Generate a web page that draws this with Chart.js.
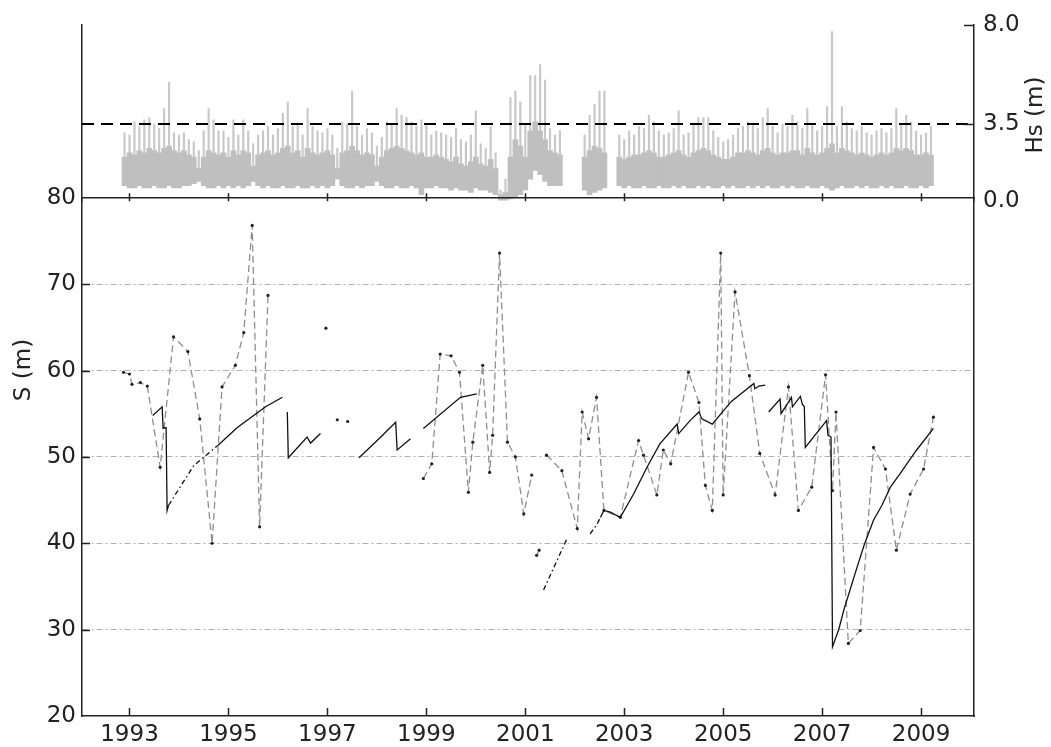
<!DOCTYPE html>
<html>
<head>
<meta charset="utf-8">
<title>Hs and S, 1993-2009</title>
<script src="https://cdn.jsdelivr.net/npm/chart.js@4/dist/chart.umd.min.js"></script>
<style>
  html, body { margin: 0; padding: 0; background: #fff; }
  #wrap { position: relative; width: 1051px; height: 747px; }
  #wrap canvas { position: absolute; left: 0; }
</style>
</head>
<body>
<div id="wrap">
  <canvas id="hsChart" width="1051" height="224" style="top:0"></canvas>
  <canvas id="sChart" width="1051" height="569" style="top:178px"></canvas>
</div>
<script>
Chart.defaults.font.family = '"DejaVu Sans", sans-serif';
Chart.defaults.font.size = 23;
Chart.defaults.color = "#222";
Chart.defaults.animation = false;

// time axis shared by both panels (decimal years)
const yearMin = 1992.04;
const yearMax = 2010.07;
const yearTicks = [1993, 1995, 1997, 1999, 2001, 2003, 2005, 2007, 2009];

// Hs, one bin every 0.1 yr from 1992.9: bottom and top of the dense band, highest peak (null = no record)
const hsStart = 1992.9;
const hsStep = 0.1;
const hsLow = [
    0.7, 0.6, 0.6, 0.7, 0.6, 0.6, 0.7, 0.6, 0.6, 0.7,
    0.6, 0.6, 0.7, 0.7, 0.8, 0.9, 0.7, 0.6, 0.6, 0.7,
    0.6, 0.7, 0.6, 0.7, 0.6, 0.7, 0.9, 0.7, 0.6, 0.7,
    0.6, 0.6, 0.7, 0.6, 0.6, 0.7, 0.6, 0.6, 0.7, 0.6,
    0.7, 0.6, 0.7, 1.0, 0.7, 0.6, 0.6, 0.7, 0.6, 0.7,
    0.7, 0.9, 0.7, 0.6, 0.6, 0.7, 0.6, 0.6, 0.7, 0.6,
    0.3, 0.6,
    0.6, 0.7, 0.6, 0.6, 0.5, 0.6, 0.5, 0.5,
    0.4, 0.6, 0.5, 0.5, 0.4, 0.3,
    0.05, 0.05,
    0.1, 0.2, 0.3, 0.5, 1.0, 1.4, 1.2, 0.9, 0.7, 0.7, 0.7,
    null, null, null, null,
    0.5, 0.3, 0.4, 0.5, 0.6,
    null, null,
    0.7, 0.6, 0.7, 0.6, 0.6, 0.7, 0.6, 0.6, 0.7, 0.6,
    0.6, 0.7, 0.6, 0.7, 0.6, 0.6, 0.7, 0.6, 0.7, 0.6,
    0.6, 0.7, 0.6, 0.7, 0.6, 0.6, 0.7, 0.6, 0.7, 0.6,
    0.7, 0.6, 0.6, 0.7, 0.6, 0.7, 0.6, 0.6, 0.7, 0.6,
    0.6, 0.7, 0.6, 0.5, 0.6, 0.7, 0.6, 0.6, 0.7, 0.6,
    0.7, 0.6, 0.6, 0.7, 0.6, 0.7, 0.6, 0.6, 0.7, 0.6,
    0.6, 0.7, 0.6, 0.7,
];
const hsHigh = [
    2.0, 2.2, 2.1, 2.3, 2.2, 2.4, 2.3, 2.2, 2.4, 2.5,
    2.3, 2.2, 2.3, 2.1, 2.0, 1.5, 2.0, 2.3, 2.2, 2.1,
    2.2, 2.0, 2.3, 2.1, 2.3, 2.2, 1.6, 2.1, 2.2, 2.3,
    2.1, 2.2, 2.4, 2.5, 2.2, 2.3, 2.0, 2.4, 2.2, 2.1,
    2.2, 2.3, 2.1, 1.5, 2.2, 2.3, 2.5, 2.3, 2.1, 2.2,
    2.1, 1.6, 2.0, 2.3, 2.4, 2.5, 2.4, 2.3, 2.2, 2.1,
    2.2, 2.0,
    2.0, 2.1, 2.0, 1.9, 1.8, 2.0, 1.7, 1.6,
    1.8, 2.0, 1.7, 1.6, 1.9, 1.5,
    0.3, 0.4,
    2.0, 2.8, 2.5, 2.0, 3.2, 3.6, 3.2, 2.8, 2.3, 2.2, 2.1,
    null, null, null, null,
    2.0, 2.3, 2.5, 2.4, 2.2,
    null, null,
    2.0, 1.9, 2.0, 2.1, 2.1, 2.2, 2.3, 2.2, 2.0, 2.0,
    2.1, 2.2, 2.3, 2.1, 2.0, 2.2, 2.3, 2.4, 2.3, 2.1,
    2.0, 1.9, 1.9, 2.0, 2.2, 2.2, 2.3, 2.2, 2.1, 2.3,
    2.4, 2.2, 2.1, 2.2, 2.2, 2.3, 2.3, 2.1, 2.4, 2.2,
    2.1, 2.2, 2.4, 2.6, 2.2, 2.4, 2.3, 2.2, 2.1, 2.2,
    2.1, 2.0, 2.1, 2.2, 2.1, 2.2, 2.4, 2.3, 2.4, 2.3,
    2.1, 2.1, 2.2, 2.1,
];
const hsPeak = [
    3.1, 3.0, 3.6, 3.4, 3.7, 3.8, 3.5, 3.3, 4.2, 5.4,
    3.1, 3.0, 3.1, 2.8, 2.7, 2.3, 3.2, 4.2, 3.7, 3.2,
    3.2, 2.9, 3.7, 3.0, 3.7, 3.2, 2.6, 3.0, 3.2, 3.4,
    3.0, 3.3, 4.0, 4.5, 3.4, 3.5, 3.0, 4.2, 3.4, 3.2,
    3.1, 3.3, 3.0, 2.4, 3.6, 3.5, 5.0, 3.4, 3.0, 3.3,
    3.1, 2.5, 2.9, 3.6, 3.5, 4.2, 3.9, 3.8, 3.6, 3.4,
    3.7, 3.5,
    3.0, 3.2, 3.1, 3.0, 2.9, 3.3, 2.8, 2.7,
    3.0, 4.1, 2.6, 2.4, 3.4, 2.2,
    0.5, 1.0,
    4.7, 5.0, 4.5, 3.5, 5.7, 5.7, 6.2, 5.5, 3.3, 3.0, 3.2,
    null, null, null, null,
    3.0, 3.9, 4.4, 5.0, 5.0,
    null, null,
    3.0, 2.8, 3.2, 3.0, 3.4, 3.3, 3.9, 3.6, 3.2, 3.0,
    3.1, 3.3, 4.1, 3.0, 3.1, 3.5, 3.8, 3.8, 3.8, 3.2,
    2.9, 2.7, 2.8, 3.0, 3.3, 3.4, 3.6, 3.5, 3.3, 3.8,
    4.2, 3.4, 3.1, 3.5, 3.4, 3.9, 3.6, 3.3, 4.2, 3.5,
    3.2, 3.4, 4.3, 7.7, 3.4, 4.3, 3.6, 3.3, 3.2, 3.4,
    3.1, 3.0, 3.2, 3.3, 3.1, 3.3, 4.2, 3.5, 3.9, 3.6,
    3.2, 3.0, 3.1, 3.4,
];
const hsThreshold = 3.5;
const hsTicks = [0, 3.5, 8];

// measured S (m); null breaks the dashed line
const obsYear = [
    1992.88, 1993.00, 1993.05, 1993.22, 1993.36, 1993.62, 1993.89, 1994.18, 1994.42, 1994.67,
    1994.87, 1995.14, 1995.31, 1995.48, 1995.63, 1995.80, 1996.40, 1996.97, 1997.10, 1997.20,
    1997.30, 1997.41, 1998.00, 1998.94, 1999.11, 1999.28, 1999.50, 1999.67, 1999.85, 1999.94,
    2000.14, 2000.28, 2000.34, 2000.48, 2000.64, 2000.80, 2000.97, 2001.13, 2001.18, 2001.23,
    2001.28, 2001.35, 2001.43, 2001.74, 2002.05, 2002.15, 2002.28, 2002.44, 2002.59, 2002.92,
    2003.29, 2003.39, 2003.66, 2003.79, 2003.94, 2004.30, 2004.51, 2004.64, 2004.78, 2004.95,
    2005.00, 2005.24, 2005.53, 2005.74, 2006.05, 2006.32, 2006.52, 2006.79, 2007.07, 2007.21,
    2007.28, 2007.53, 2007.77, 2008.04, 2008.28, 2008.50, 2008.78, 2009.05, 2009.25,
];
const obsS = [
    59.8, 59.6, 58.4, 58.6, 58.2, 48.8, 63.9, 62.2, 54.4, 40.0,
    58.1, 60.6, 64.4, 76.8, 41.9, 68.7, null, 64.9, null, 54.3,
    null, 54.1, null, 47.5, 49.2, 61.9, 61.7, 59.8, 45.9, 51.7,
    60.6, 48.2, 52.5, 73.6, 51.7, 50.0, 43.4, 47.9, null, 38.6,
    39.2, null, 50.2, 48.4, 41.7, 55.2, 52.1, 56.9, 43.8, 43.0,
    51.9, 50.2, 45.6, 50.8, 49.2, 59.8, 56.3, 46.7, 43.8, 73.6,
    45.6, 69.1, 59.4, 50.4, 45.6, 58.1, 43.8, 46.5, 59.5, 46.1,
    55.2, 28.4, 29.9, 51.1, 48.6, 39.2, 45.7, 48.6, 54.6,
];

// modelled S (m); null breaks the line
const modelYear = [
    1993.47, 1993.66, 1993.68, 1993.74, 1993.76, 1993.79, 1994.30, 1994.78, 1995.18, 1995.51,
    1995.75, 1996.09, 1996.14, 1996.19, 1996.21, 1996.59, 1996.66, 1996.86, 1997.20, 1997.64,
    1998.08, 1998.38, 1998.41, 1998.68, 1998.80, 1998.94, 1999.69, 2000.02, 2000.70, 2001.37,
    2001.84, 2002.10, 2002.31, 2002.44, 2002.52, 2002.59, 2002.72, 2002.92, 2003.19, 2003.46,
    2003.72, 2004.07, 2004.10, 2004.33, 2004.51, 2004.57, 2004.78, 2005.16, 2005.62, 2005.64,
    2005.72, 2005.85, 2005.88, 2005.92, 2006.15, 2006.17, 2006.38, 2006.40, 2006.56, 2006.60,
    2006.64, 2006.66, 2007.09, 2007.12, 2007.18, 2007.21, 2007.34, 2007.44, 2007.71, 2007.85,
    2008.04, 2008.21, 2008.38, 2008.58, 2008.91, 2009.25,
];
const modelS = [
    54.8, 55.8, 53.3, 53.4, 43.8, 44.4, 49.0, 51.3, 53.4, 54.8,
    55.8, 56.9, null, 55.2, 49.9, 52.3, 51.6, 52.7, null, 49.9,
    52.3, 54.0, 50.8, 52.1, null, 53.3, 56.9, 57.3, null, 34.6,
    40.5, null, 41.1, 42.1, 43.0, 43.8, 43.6, 43.0, 45.7, 48.8,
    51.5, 53.8, 52.7, 54.2, 55.2, 54.4, 53.8, 56.4, 58.5, 57.9,
    58.2, 58.3, null, 55.2, 56.7, 55.0, 56.9, 55.8, 57.0, 56.1,
    55.8, 51.1, 54.2, 52.5, 52.3, 28.0, 30.1, 32.3, 37.3, 39.8,
    42.7, 44.4, 46.5, 48.1, 50.8, 53.3,
];
// stretches of the model line that are drawn broken (sparse output)
const modelSparse = [[1993.78, 1994.79], [2001.3, 2001.9], [2002.3, 2002.56]];

const toPoints = (xs, ys) => xs.map((x, i) => ({ x, y: ys[i] }));

// floating bars: dense band plus thin peaks above it
const bandData = [];
const peakData = [];
hsLow.forEach((lo, i) => {
    if (lo === null) return;
    const x = +(hsStart + i * hsStep).toFixed(2);
    bandData.push({ x, y: [lo, hsHigh[i]] });
    peakData.push({ x, y: [hsHigh[i], hsPeak[i]] });
});

// tick marks drawn on the inside of the frame
const innerTicks = {
    id: "innerTicks",
    afterDatasetsDraw(chart, args, opts) {
        const { ctx, chartArea: a } = chart;
        ctx.save();
        ctx.strokeStyle = "#222";
        ctx.lineWidth = 1.5;
        ctx.beginPath();
        opts.marks.forEach((m) => {
            const scale = chart.scales[m.scale];
            m.values.forEach((v) => {
                const p = Math.round(scale.getPixelForValue(v)) + 0.5;
                if (m.side === "bottom") {
                    ctx.moveTo(p, a.bottom);
                    ctx.lineTo(p, a.bottom - m.len);
                } else if (m.side === "left") {
                    ctx.moveTo(a.left, p);
                    ctx.lineTo(a.left + m.len, p);
                } else if (m.side === "right") {
                    ctx.moveTo(a.right, p);
                    ctx.lineTo(a.right - m.len, p);
                }
            });
        });
        ctx.stroke();
        ctx.restore();
    },
};

// rotated axis titles, read bottom to top
const sideTitles = {
    id: "sideTitles",
    afterDraw(chart, args, opts) {
        const ctx = chart.ctx;
        opts.items.forEach((t) => {
            ctx.save();
            ctx.translate(t.x, t.y);
            ctx.rotate(-Math.PI / 2);
            ctx.font = '23px "DejaVu Sans", sans-serif';
            ctx.fillStyle = "#222";
            ctx.textAlign = "center";
            ctx.textBaseline = "middle";
            ctx.fillText(t.text, 0, 0);
            ctx.restore();
        });
    },
};

const frame = { color: "#222", width: 1.5 };
const hidden = { display: false, drawTicks: false };

// Hs panel
new Chart(document.getElementById("hsChart"), {
    type: "bar",
    data: {
        datasets: [
            {
                type: "line",
                data: [{ x: yearMin, y: hsThreshold }, { x: yearMax, y: hsThreshold }],
                borderColor: "#000",
                borderWidth: 2,
                borderDash: [12, 7],
                pointRadius: 0,
            },
            {
                data: peakData,
                backgroundColor: "#c8c8c8",
                barThickness: 1.5,
                grouped: false,
            },
            {
                data: bandData,
                backgroundColor: "#bfbfbf",
                barThickness: 5,
                grouped: false,
            },
        ],
    },
    options: {
        responsive: false,
        layout: { padding: { top: 25, bottom: 12, left: 0, right: 0 } },
        plugins: {
            legend: { display: false },
            tooltip: { enabled: false },
            innerTicks: {
                marks: [
                    { scale: "x", side: "bottom", values: yearTicks, len: 8 },
                    { scale: "y", side: "right", values: [3.5, 8], len: 10 },
                ],
            },
            sideTitles: { items: [{ text: "Hs (m)", x: 1036, y: 115 }] },
        },
        scales: {
            x: {
                type: "linear",
                min: yearMin,
                max: yearMax,
                offset: false,
                ticks: { display: false },
                grid: hidden,
                border: { display: false },
                afterFit: (s) => { s.height = 0; },
            },
            y: {
                position: "right",
                min: 0,
                max: 8,
                afterBuildTicks: (s) => { s.ticks = hsTicks.map((v) => ({ value: v })); },
                ticks: { padding: 9, callback: (v) => v.toFixed(1) },
                grid: hidden,
                border: frame,
                afterFit: (s) => { s.width = 77; },
            },
            yl: {
                position: "left",
                min: 0,
                max: 8,
                ticks: { display: false },
                grid: hidden,
                border: frame,
                afterFit: (s) => { s.width = 82; },
            },
        },
    },
    plugins: [innerTicks, sideTitles],
});

// S panel
const inSparse = (x) => modelSparse.some(([a, b]) => x >= a && x <= b);

new Chart(document.getElementById("sChart"), {
    type: "line",
    data: {
        datasets: [
            {
                data: toPoints(modelYear, modelS),
                borderColor: "#111",
                borderWidth: 1.3,
                pointRadius: 0,
                spanGaps: false,
                segment: {
                    borderDash: (c) => (inSparse(c.p0.parsed.x) && inSparse(c.p1.parsed.x) ? [5, 3, 1.5, 3] : undefined),
                },
            },
            {
                data: toPoints(obsYear, obsS),
                borderColor: "#8e8e8e",
                borderWidth: 1.3,
                borderDash: [7, 4],
                pointRadius: 1.6,
                pointBorderWidth: 0,
                pointBackgroundColor: "#222",
                spanGaps: false,
            },
        ],
    },
    options: {
        responsive: false,
        layout: { padding: { top: 18, bottom: 0, left: 0, right: 0 } },
        plugins: {
            legend: { display: false },
            tooltip: { enabled: false },
            innerTicks: {
                marks: [
                    { scale: "x", side: "bottom", values: yearTicks, len: 8 },
                    { scale: "y", side: "left", values: [30, 40, 50, 60, 70], len: 8 },
                ],
            },
            sideTitles: { items: [{ text: "S (m)", x: 24, y: 192 }] },
        },
        scales: {
            x: {
                type: "linear",
                position: "bottom",
                min: yearMin,
                max: yearMax,
                afterBuildTicks: (s) => { s.ticks = yearTicks.map((v) => ({ value: v })); },
                ticks: { padding: 5, maxRotation: 0, autoSkip: false, callback: (v) => String(v) },
                grid: hidden,
                border: frame,
                afterFit: (s) => { s.height = 31; },
            },
            xt: {
                type: "linear",
                position: "top",
                min: yearMin,
                max: yearMax,
                ticks: { display: false },
                grid: hidden,
                border: frame,
                afterFit: (s) => { s.height = 0; },
            },
            y: {
                position: "left",
                min: 20,
                max: 80,
                ticks: { stepSize: 10, padding: 6 },
                grid: {
                    drawTicks: false,
                    lineWidth: 1,
                    color: (c) => (c.tick && (c.tick.value === 20 || c.tick.value === 80) ? "rgba(0,0,0,0)" : "#b0b0b0"),
                },
                border: { color: "#222", width: 1.5, dash: [6, 3, 2, 3] },
                afterFit: (s) => { s.width = 82; },
            },
            yr: {
                position: "right",
                min: 20,
                max: 80,
                ticks: { display: false },
                grid: hidden,
                border: frame,
                afterFit: (s) => { s.width = 77; },
            },
        },
    },
    plugins: [innerTicks, sideTitles],
});
</script>
</body>
</html>
